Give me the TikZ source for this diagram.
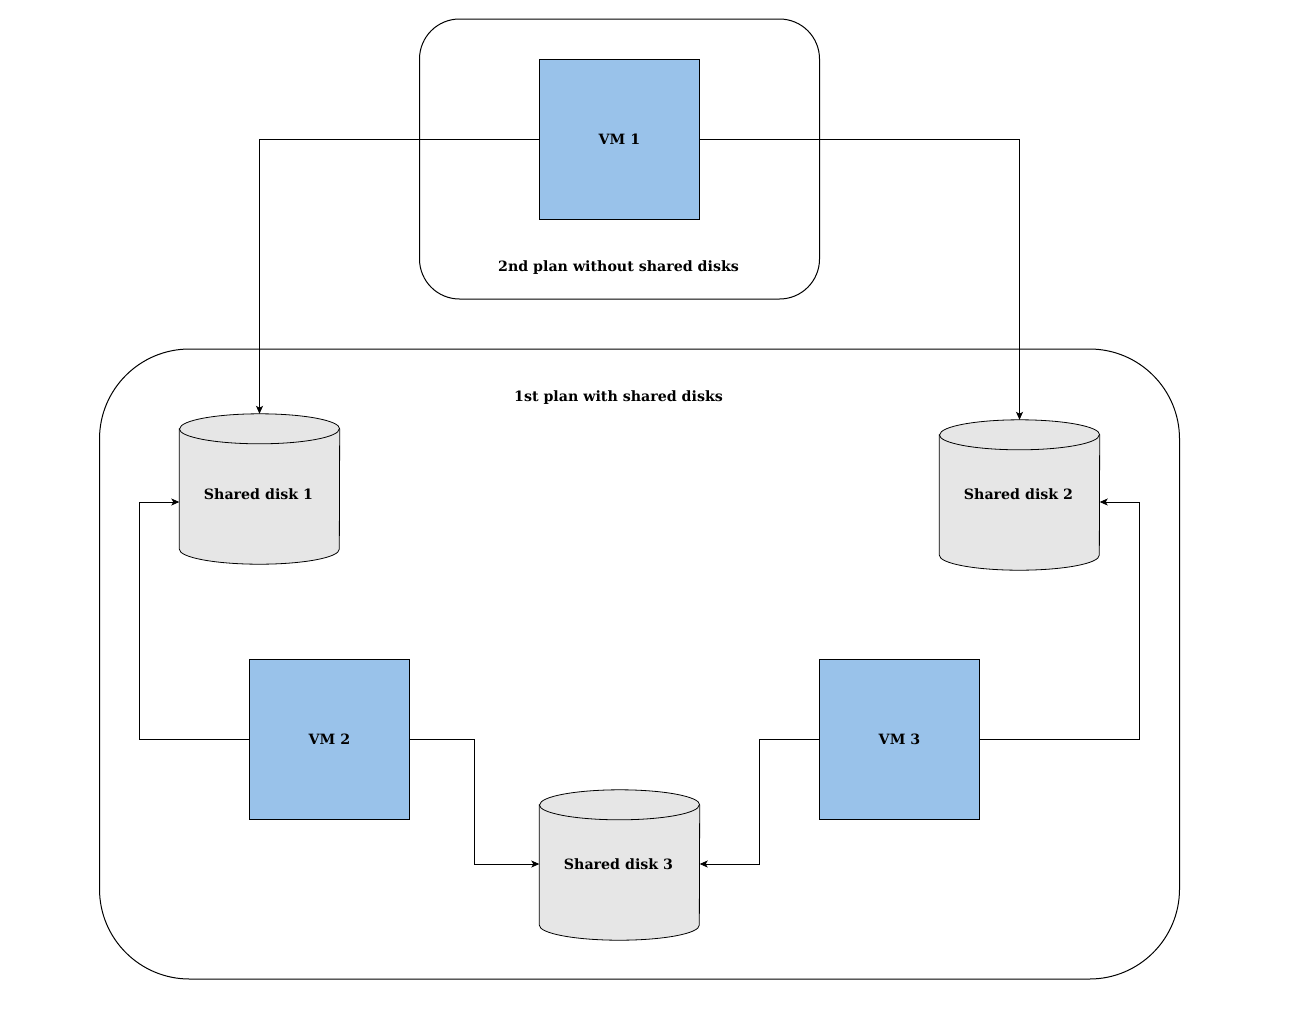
\documentclass[tikz,border=0pt]{standalone}
\usepackage{fontspec}
\setmainfont{DejaVu Serif}
\usetikzlibrary{calc,arrows.meta}
\definecolor{vmfill}{HTML}{99C2EA}
\definecolor{diskfill}{HTML}{E6E6E6}
\begin{document}
\begin{tikzpicture}[x=1pt,y=1pt,
  txt/.style={font=\fontsize{14.2}{16}\selectfont\bfseries, inner sep=0pt},
  container/.style={draw=black, line width=1pt, rounded corners=#1},
  vm/.style={draw=black, line width=0.8pt, fill=vmfill, minimum width=160pt, minimum height=160pt, inner sep=0pt, font=\fontsize{14.2}{16}\selectfont\bfseries},
  disk/.style={minimum width=160pt, minimum height=150pt, inner sep=0pt},
  conn/.style={draw=black, line width=0.8pt, -{Stealth[length=8pt,width=7pt,inset=2pt]}},
  line/.style={draw=black, line width=0.8pt}
]
\useasboundingbox (0,0) rectangle (1313,-1012);
\begin{scope}[xshift=-0.5pt]
% containers
\draw[container=40pt] (420,-19) rectangle (820,-299);
\draw[container=90pt] (100,-349) rectangle (1180,-979);
\node[txt] (t2) at (619,-268) {2nd plan without shared disks};
\node[txt] (t1) at (619,-398) {1st plan with shared disks};
% VMs
\node[vm] (vm1) at (620,-139) {VM 1};
\node[vm] (vm2) at (330,-739) {VM 2};
\node[vm] (vm3) at (900,-739) {VM 3};
% disks
\node[disk] (d1) at (260,-489) {};
\node[disk] (d2) at (1020,-495) {};
\node[disk] (d3) at (620,-865) {};
\foreach \n in {d1,d2,d3}{
  \draw[line, fill=diskfill] ($(\n.north west)+(0,-15)$) -- ($(\n.south west)+(0,15)$)
     arc[start angle=180,end angle=360,x radius=80,y radius=15]
     -- ($(\n.north east)+(0,-15)$)
     arc[start angle=0,end angle=180,x radius=80,y radius=15] -- cycle;
  \draw[line] ($(\n.north west)+(0,-15)$) arc[start angle=180,end angle=360,x radius=80,y radius=15];
}
\node[txt] (d1l) at (259,-494) {Shared disk 1};
\node[txt] (d2l) at (1019,-494) {Shared disk 2};
\node[txt] (d3l) at (619,-864) {Shared disk 3};
% connectors
\coordinate (d1w) at ($(d1.west)+(0,-13)$);
\coordinate (d2e) at ($(d2.east)+(0,-7)$);
\coordinate (d3w) at ($(d3.west)+(0,1)$);
\coordinate (d3e) at ($(d3.east)+(0,1)$);
\draw[conn] (vm1.west) -- (vm1.west -| d1.north) -- (d1.north);
\draw[conn] (vm1.east) -- (vm1.east -| d2.north) -- (d2.north);
\draw[conn] (vm2.west) -- (140,-739) -- (140,-502) -- (d1w);
\draw[conn] (vm2.east) -- (475,-739) -- (475,-864) -- (d3w);
\draw[conn] (vm3.west) -- (760,-739) -- (760,-864) -- (d3e);
\draw[conn] (vm3.east) -- (1140,-739) -- (1140,-502) -- (d2e);
\end{scope}
\end{tikzpicture}
\end{document}
